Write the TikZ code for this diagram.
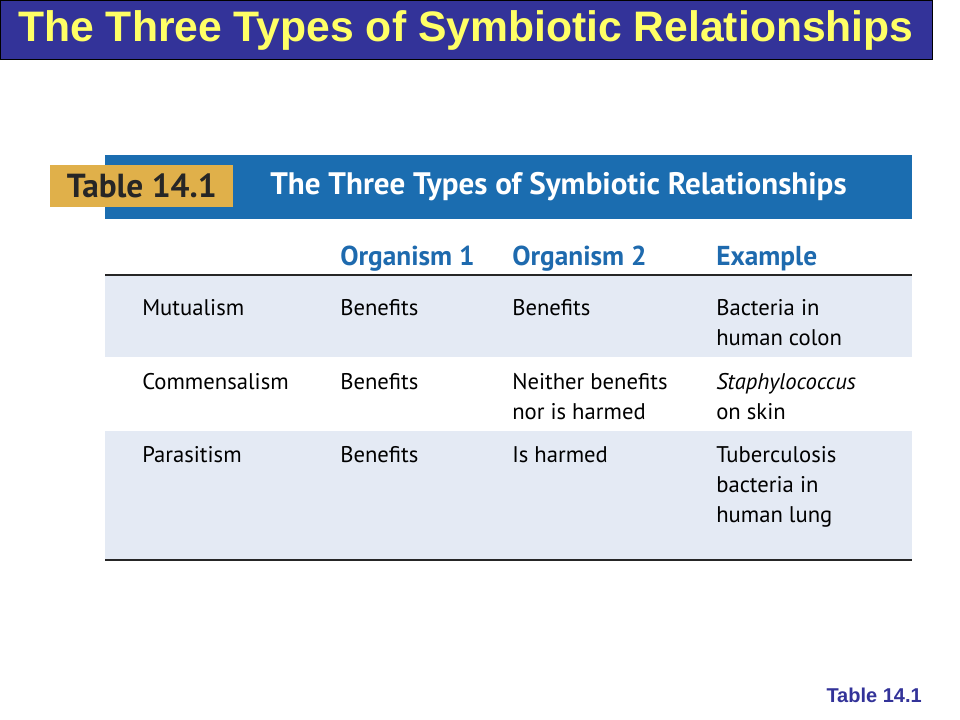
\documentclass[tikz,border=0pt]{standalone}
\usepackage{fontspec}
\setmainfont{Liberation Sans}
\newfontfamily\tabfont{PT Sans}
\definecolor{titleblue}{HTML}{333399}
\definecolor{titleyellow}{HTML}{FFFF66}
\definecolor{barblue}{HTML}{1B6DB0}
\definecolor{gold}{HTML}{E0B04A}
\definecolor{rowblue}{HTML}{E4EAF4}
\definecolor{headblue}{HTML}{1E6AAE}
\tikzset{
 cell/.style={anchor=north west,font=\tabfont\fontsize{17}{22.5}\selectfont,align=left,inner sep=0pt},
 head/.style={anchor=base west,font=\tabfont\bfseries\fontsize{20.5}{22}\selectfont,text=headblue,inner sep=0pt},
 rule/.style={line width=1.3pt,black!85}
}
\begin{document}
\begin{tikzpicture}[x=0.75pt,y=-0.75pt]
\useasboundingbox (0,0) rectangle (960,720);
\fill[white] (0,0) rectangle (960,720);
\node[draw=black,line width=1pt,fill=titleblue,minimum width=932*0.75pt,minimum height=59*0.75pt,anchor=north west,inner sep=0pt] (bar) at (0,0) {};
\node[anchor=west,text=titleyellow,font=\bfseries\fontsize{32}{34}\selectfont,inner sep=0pt] (title) at (18,30) {The Three Types of Symbiotic Relationships};
\fill[barblue] (105,155) rectangle (912,219);
\node[fill=gold,minimum width=183*0.75pt,minimum height=42*0.75pt,anchor=north west,inner sep=0pt,font=\tabfont\bfseries\fontsize{25}{27}\selectfont,text=black!85] (tag) at (50,165) {Table 14.1};
\node[anchor=west,text=white,font=\tabfont\bfseries\fontsize{23.3}{25}\selectfont,inner sep=0pt] (ttl) at (270,187) {The Three Types of Symbiotic Relationships};
\fill[rowblue] (105,276) rectangle (912,357);
\fill[rowblue] (105,431) rectangle (912,560);
\draw[rule] (105,275) -- (912,275);
\draw[rule] (105,560) -- (912,560);
\node[head] (h1) at (340,266) {Organism 1};
\node[head] (h2) at (512,266) {Organism 2};
\node[head] (h3) at (716,266) {Example};
\node[cell] (a0) at (142,299) {Mutualism};
\node[cell] (a1) at (340,299) {Benefits};
\node[cell] (a2) at (512,299) {Benefits};
\node[cell] (a3) at (716,299) {Bacteria in\\human colon};
\node[cell] (b0) at (142,373) {Commensalism};
\node[cell] (b1) at (340,373) {Benefits};
\node[cell] (b2) at (512,373) {Neither benefits\\nor is harmed};
\node[cell] (b3) at (716,373) {\itshape Staphylococcus\\on skin};
\node[cell] (c0) at (142,446) {Parasitism};
\node[cell] (c1) at (340,446) {Benefits};
\node[cell] (c2) at (512,446) {Is harmed};
\node[cell] (c3) at (716,446) {Tuberculosis\\bacteria in\\human lung};
\node[anchor=east,text=titleblue,font=\bfseries\fontsize{15}{17}\selectfont,inner sep=0pt] (foot) at (922,695) {Table 14.1};
\end{tikzpicture}
\end{document}
